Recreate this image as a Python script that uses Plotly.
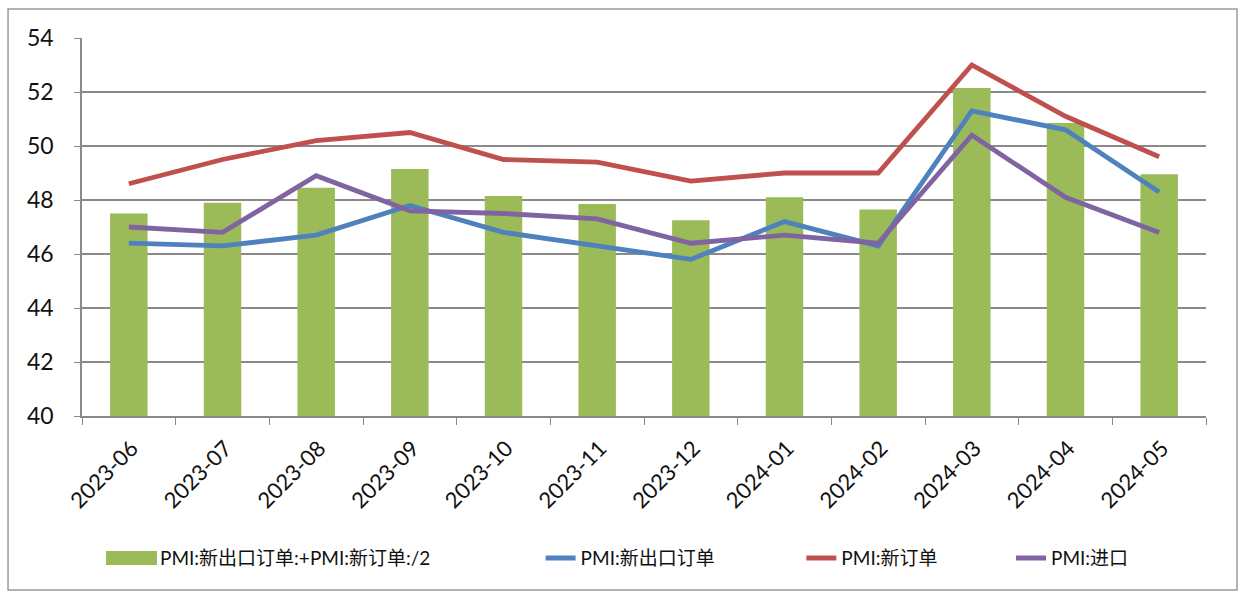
import plotly.graph_objects as go

months = ["2023-06", "2023-07", "2023-08", "2023-09", "2023-10", "2023-11",
          "2023-12", "2024-01", "2024-02", "2024-03", "2024-04", "2024-05"]
avg_orders = [47.5, 47.9, 48.45, 49.15, 48.15, 47.85, 47.25, 48.1, 47.65, 52.15, 50.85, 48.95]
new_export = [46.4, 46.3, 46.7, 47.8, 46.8, 46.3, 45.8, 47.2, 46.3, 51.3, 50.6, 48.3]
new_orders = [48.6, 49.5, 50.2, 50.5, 49.5, 49.4, 48.7, 49.0, 49.0, 53.0, 51.1, 49.6]
imports = [47.0, 46.8, 48.9, 47.6, 47.5, 47.3, 46.4, 46.7, 46.4, 50.4, 48.1, 46.8]
y_ticks = [40, 42, 44, 46, 48, 50, 52, 54]

FONT = "Lato, 'Noto Sans CJK SC', sans-serif"
GRID = "#8a8a8a"
GREEN = "#9BBB59"

fig = go.Figure()
fig.add_trace(go.Bar(x=months, y=avg_orders, name="PMI:新出口订单:+PMI:新订单:/2",
                     marker=dict(color=GREEN, line=dict(width=0)), legend="legend"))
fig.add_trace(go.Scatter(x=months, y=new_export, name="PMI:新出口订单", mode="lines",
                         line=dict(color="#4F81BD", width=4.8), legend="legend2"))
fig.add_trace(go.Scatter(x=months, y=new_orders, name="PMI:新订单", mode="lines",
                         line=dict(color="#C0504D", width=4.8), legend="legend3"))
fig.add_trace(go.Scatter(x=months, y=imports, name="PMI:进口", mode="lines",
                         line=dict(color="#8064A2", width=4.8), legend="legend4"))

leg_common = dict(orientation="h", y=-0.376, yanchor="middle", xanchor="left",
                  font=dict(family=FONT, size=19, color="#111"), bgcolor="rgba(0,0,0,0)")
fig.update_layout(
    width=1246, height=594,
    showlegend=True,
    margin=dict(l=82, r=40, t=38, b=178),
    paper_bgcolor="white", plot_bgcolor="white",
    bargap=0.6,
    font=dict(family=FONT, size=19, color="#111"),
    legend=dict(x=0.0338, **leg_common),
    legend2=dict(x=0.408, **leg_common),
    legend3=dict(x=0.640, **leg_common),
    legend4=dict(x=0.8265, **leg_common),
    xaxis=dict(type="category", tickangle=-45, tickson="boundaries", ticks="outside",
               ticklen=7, tickcolor=GRID, showline=True, linecolor=GRID, linewidth=1.5,
               showgrid=False, ticklabelstandoff=9, ticklabelshift=3,
               tickfont=dict(family=FONT, size=22, color="#111")),
    yaxis=dict(range=[40, 54], tickvals=y_ticks, ticks="outside", ticklen=6, tickcolor=GRID,
               showline=True, linecolor=GRID, linewidth=1.5, showgrid=True, gridcolor=GRID,
               gridwidth=1.5, zeroline=False, ticklabelstandoff=16,
               tickfont=dict(family=FONT, size=23, color="#111")),
    shapes=[dict(type="rect", xref="paper", yref="paper", x0=-0.0658, x1=1.0276,
                 y0=-0.46, y1=1.0767, line=dict(color="#9a9a9a", width=1.5),
                 fillcolor="rgba(0,0,0,0)", layer="below"),
            dict(type="rect", xref="paper", yref="paper", x0=0.02135, x1=0.0667,
                 y0=-0.3942, y1=-0.3571, line=dict(width=0), fillcolor=GREEN, layer="above")],
)
fig.write_html("out.html", config={"displayModeBar": False},
               post_script="document.body.style.margin='0px';document.body.style.overflow='hidden';")
